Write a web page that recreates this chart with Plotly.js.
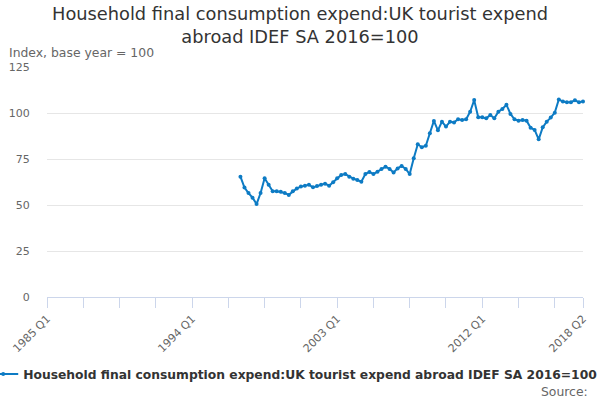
<!DOCTYPE html>
<html>
<head>
<meta charset="utf-8">
<script src="https://cdn.plot.ly/plotly-3.0.1.min.js"></script>
<style>
  html, body { margin: 0; padding: 0; background: #fff; }
  #chart { width: 600px; height: 400px; }
</style>
</head>
<body>
<div id="chart"></div>
<script>
/* ── Quarterly index chart ── */

const SERIES_NAME = 'Household final consumption expend:UK tourist expend abroad IDEF SA 2016=100';

// axis runs 1985 Q1 .. 2018 Q2, data starts 1997 Q1
const FIRST_YEAR = 1985;
const LAST_YEAR  = 2018;
const LAST_Q     = 2;
const DATA_START = '1997 Q1';

const tickLabels = ['1985 Q1', '1994 Q1', '2003 Q1', '2012 Q1', '2018 Q2'];

const values = [
  65.4, 59.5, 56.5, 54.0,      // 1997
  50.5, 56.5, 64.5, 61.0,      // 1998
  57.5, 57.5, 57.2, 56.5,      // 1999
  55.5, 57.5, 59.0, 60.0,      // 2000
  60.5, 61.0, 59.6, 60.3,      // 2001
  61.0, 61.6, 60.5, 62.3,      // 2002
  64.5, 66.3, 66.8, 65.4,      // 2003
  64.3, 63.6, 62.7, 66.8,      // 2004
  68.0, 66.8, 68.1, 69.6,      // 2005
  70.8, 69.6, 67.7, 69.9,      // 2006
  71.2, 69.6, 66.8, 75.4,      // 2007
  83.0, 81.4, 82.2, 89.0,      // 2008
  95.7, 90.6, 95.3, 92.6,      // 2009
  95.3, 94.9, 96.6, 96.2,      // 2010
  96.6, 100.7, 107.0, 97.7,    // 2011
  97.7, 97.1, 98.9, 97.1,      // 2012
  100.7, 102.2, 104.5, 99.5,   // 2013
  96.6, 95.8, 96.2, 95.8,      // 2014
  92.0, 90.8, 85.7, 92.2,      // 2015
  95.3, 97.5, 100.2, 107.4,    // 2016
  106.2, 105.8, 105.9, 106.9,  // 2017
  105.9, 106.3                 // 2018
];

const quarters = [];
for (let y = FIRST_YEAR; y <= LAST_YEAR; y++) {
  for (let q = 1; q <= 4; q++) {
    if (y === LAST_YEAR && q > LAST_Q) break;
    quarters.push(`${y} Q${q}`);
  }
}

const startIdx = quarters.indexOf(DATA_START);
const xData = quarters.slice(startIdx, startIdx + values.length);

// tick marks every 9 quarters plus the last one, labels only on a few
const tickVals = quarters.filter((_, i) => i % 9 === 0);
tickVals.push(quarters[quarters.length - 1]);
const tickText = tickVals.map(q => tickLabels.includes(q) ? q : '');

const GREY = '#666666';
const FONT = 'DejaVu Sans, sans-serif';

const trace = {
  x: xData,
  y: values,
  type: 'scatter',
  mode: 'lines+markers',
  name: SERIES_NAME,
  line: { color: '#0d7bc4', width: 2 },
  marker: { color: '#0d7bc4', size: 4 },
  cliponaxis: false,
};

const layout = {
  width: 600,
  height: 400,
  paper_bgcolor: '#fff',
  plot_bgcolor: '#fff',
  margin: { l: 47, r: 17, t: 67, b: 103, autoexpand: false },
  font: { family: FONT, color: GREY, size: 11 },
  title: {
    text: 'Household final consumption expend:UK tourist expend<br>abroad IDEF SA 2016=100',
    font: { family: FONT, size: 17.8, color: '#333333' },
    x: 0.5, xanchor: 'center',
    y: 0.95, yanchor: 'top',
    yref: 'container',
  },
  xaxis: {
    type: 'category',
    categoryorder: 'array',
    categoryarray: quarters,
    range: [0, quarters.length - 1],
    tickmode: 'array',
    tickvals: tickVals,
    ticktext: tickText,
    tickangle: -45,
    ticks: 'outside',
    ticklen: 10,
    tickcolor: '#ccd6eb',
    showline: true,
    linecolor: '#ccd6eb',
    linewidth: 1,
    showgrid: false,
    zeroline: false,
    tickfont: { family: FONT, size: 11, color: GREY },
    fixedrange: true,
  },
  yaxis: {
    range: [0, 125],
    dtick: 25,
    tick0: 0,
    ticks: 'outside',
    ticklen: 14,
    tickcolor: 'rgba(0,0,0,0)',
    showline: false,
    gridcolor: '#e6e6e6',
    zeroline: false,
    tickfont: { family: FONT, size: 11, color: GREY },
    fixedrange: true,
  },
  showlegend: true,
  legend: {
    orientation: 'h',
    x: -0.119, xanchor: 'left',
    y: -0.335, yanchor: 'middle',
    font: { family: FONT, size: 12.3, color: '#333333', weight: 'bold' },
    bgcolor: 'rgba(0,0,0,0)',
  },
  annotations: [
    {
      text: 'Index, base year = 100',
      xref: 'paper', yref: 'paper',
      x: -0.074, xanchor: 'left',
      y: 1.065, yanchor: 'middle',
      showarrow: false,
      font: { family: FONT, size: 12.4, color: GREY },
    },
    {
      text: 'Source:',
      xref: 'paper', yref: 'paper',
      x: 1.013, xanchor: 'right',
      y: -0.409, yanchor: 'middle',
      showarrow: false,
      font: { family: FONT, size: 12.4, color: GREY },
    },
  ],
};

Plotly.newPlot('chart', [trace], layout, { displayModeBar: false, staticPlot: true });
</script>
</body>
</html>
